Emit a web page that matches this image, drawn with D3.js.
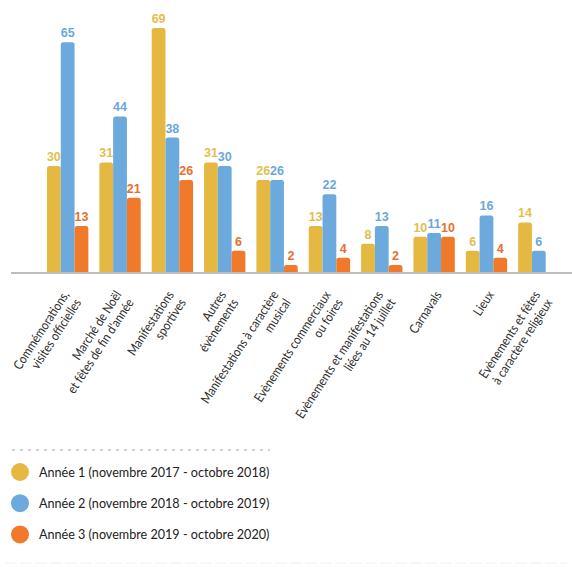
<!DOCTYPE html>
<html>
<head>
<meta charset="utf-8">
<script src="https://cdn.jsdelivr.net/npm/d3@7"></script>
<style>
  html, body { margin: 0; padding: 0; background: #fff; }
  svg { display: block; }
</style>
</head>
<body>
<svg id="chart" width="572" height="567"></svg>
<script>
// ---- Data ----
const categories = [
  "Commémorations,\nvisites officielles",
  "Marché de Noël\net fêtes de fin d'année",
  "Manifestations\nsportives",
  "Autres\névènements",
  "Manifestations à caractère\nmusical",
  "Evènements commerciaux\nou foires",
  "Evènements et manifestations\nliées au 14 juillet",
  "Carnavals",
  "Lieux",
  "Evènements et fêtes\nà caractère religieux"
];
const seriesNames = [
  "Année 1 (novembre 2017 - octobre 2018)",
  "Année 2 (novembre 2018 - octobre 2019)",
  "Année 3 (novembre 2019 - octobre 2020)"
];
const annee1 = [30, 31, 69, 31, 26, 13, 8, 10, 6, 14];
const annee2 = [65, 44, 38, 30, 26, 22, 13, 11, 16, 6];
const annee3 = [13, 21, 26, 6, 2, 4, 2, 10, 4, null];

const barColors = ["#E5B941", "#6CAADE", "#F07A2A"];
const labelColors = ["#E2BE4E", "#6AA8DC", "#E96F2C"];

// ---- Layout ----
const svg = d3.select("#chart");
svg.append("rect").attr("width", 572).attr("height", 567).attr("fill", "#fff");

const baseY = 272;
const x0 = d3.scaleBand().domain(d3.range(categories.length))
  .range([41.5, 565]).paddingInner(0.21).paddingOuter(0.105);
const x1 = d3.scaleBand().domain([0, 1, 2]).range([0, x0.bandwidth()]);
const y = d3.scaleLinear().domain([0, 69]).range([baseY, 28]);

const series = [annee1, annee2, annee3];

function topRounded(x, yTop, w, h, r) {
  r = Math.min(r, h, w / 2);
  return `M${x},${yTop + h} L${x},${yTop + r} Q${x},${yTop} ${x + r},${yTop} L${x + w - r},${yTop} Q${x + w},${yTop} ${x + w},${yTop + r} L${x + w},${yTop + h} Z`;
}

// axis line
svg.append("line")
  .attr("x1", 11).attr("x2", 572)
  .attr("y1", baseY + 1).attr("y2", baseY + 1)
  .attr("stroke", "#bdbdbd").attr("stroke-width", 2);

const groups = svg.append("g");
series.forEach((vals, s) => {
  const g = groups.append("g");
  vals.forEach((v, i) => {
    if (v == null) return;
    const bx = x0(i) + x1(s);
    const bw = x1.bandwidth();
    g.append("path")
      .attr("d", topRounded(bx, y(v), bw, baseY - y(v), 2.5))
      .attr("fill", barColors[s]);
    g.append("text")
      .attr("x", bx + bw / 2)
      .attr("y", y(v) - 5)
      .attr("text-anchor", "middle")
      .attr("font-family", "'Liberation Sans Narrow', 'Arial Narrow', 'Liberation Sans', Arial, sans-serif")
      .attr("font-weight", "bold")
      .attr("font-size", 12.5)
      .attr("fill", labelColors[s])
      .text(v);
  });
});

// category labels (rotated)
const angle = -57;
const rad = angle * Math.PI / 180;
const lh = 14.5;
const perpX = -Math.sin(rad), perpY = Math.cos(rad); // local y direction
categories.forEach((c, i) => {
  const lines = c.split("\n");
  const n = lines.length;
  const H = n * lh;
  const cx = x0(i) + x0.bandwidth() / 2;
  const mx = cx + 4;
  const my = 288 + (H / 2) * perpY;
  const t = svg.append("text")
    .attr("transform", `translate(${mx},${my}) rotate(${angle}) scale(0.87,1)`)
    .attr("text-anchor", "end")
    .attr("font-family", "Lato, 'Open Sans', sans-serif")
    .attr("font-size", 13)
    .attr("fill", "#2e2e2e");
  lines.forEach((ln, k) => {
    t.append("tspan")
      .attr("x", 0)
      .attr("y", (k - (n - 1) / 2) * lh)
      .attr("dominant-baseline", "central")
      .text(ln);
  });
});

// legend
svg.append("line")
  .attr("x1", 12).attr("x2", 270)
  .attr("y1", 450).attr("y2", 450)
  .attr("stroke", "#c4c4c4").attr("stroke-width", 1.5)
  .attr("stroke-dasharray", "3,5");

const legend = svg.append("g");
seriesNames.forEach((name, s) => {
  const ly = 472 + s * 31.2;
  legend.append("circle").attr("cx", 20).attr("cy", ly).attr("r", 9).attr("fill", barColors[s]);
  legend.append("text")
    .attr("x", 39).attr("y", ly)
    .attr("dominant-baseline", "central")
    .attr("font-family", "Lato, 'Open Sans', sans-serif")
    .attr("font-size", 12.6)
    .attr("fill", "#222")
    .text(name);
});

// faint bottom rule
svg.append("line")
  .attr("x1", 5).attr("x2", 567)
  .attr("y1", 563).attr("y2", 563)
  .attr("stroke", "#f0f0f0").attr("stroke-width", 1)
  .attr("stroke-dasharray", "12,3");
</script>
</body>
</html>
